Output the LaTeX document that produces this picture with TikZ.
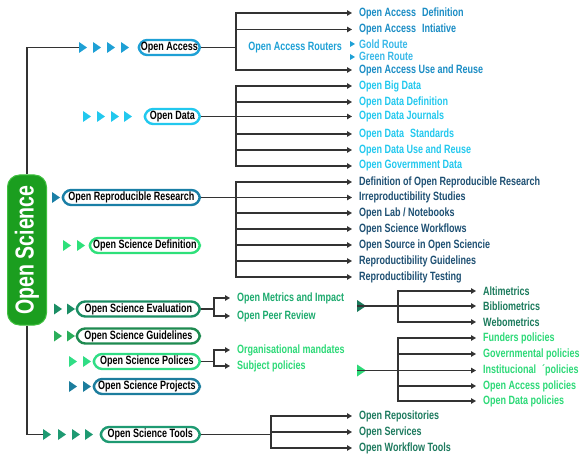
\documentclass[tikz,border=0pt]{standalone}
\usepackage{fontspec}
\usepackage{graphicx}
\setmainfont{Liberation Sans}[FakeStretch=0.75]
\usetikzlibrary{arrows.meta}
\definecolor{linegray}{HTML}{333333}
\definecolor{osgreen}{HTML}{1B9E1F}
\definecolor{osrim}{HTML}{3FC03F}
\definecolor{oablue}{HTML}{1EA0D5}
\definecolor{oatext}{HTML}{1A8CC4}
\definecolor{oalight}{HTML}{38B8E8}
\definecolor{odcyan}{HTML}{22C8EE}
\definecolor{orrblue}{HTML}{1A7FA6}
\definecolor{orrtext}{HTML}{1D4F72}
\definecolor{osdgreen}{HTML}{2EE07A}
\definecolor{osegreen}{HTML}{1B8E64}
\definecolor{osetext}{HTML}{1DAA6E}
\definecolor{metrtext}{HTML}{1B7A5C}
\definecolor{osggreen}{HTML}{1E8A50}
\definecolor{osgtri}{HTML}{2AAE5A}
\definecolor{ospgreen}{HTML}{30DD85}
\definecolor{osptext}{HTML}{2CD977}
\definecolor{projblue}{HTML}{1C7D9D}
\definecolor{ostgreen}{HTML}{1E9A72}
\definecolor{osttext}{HTML}{1D7A5E}

\begin{document}
\begin{tikzpicture}[x=1pt,y=-1pt,
  pill/.style={draw=#1,line width=2.4pt,fill=white,rounded corners=8.5pt,minimum height=15pt,inner sep=1pt,anchor=east,font=\bfseries\fontsize{12}{12}\selectfont},
  item/.style={text=#1,anchor=west,inner xsep=7pt,inner ysep=1pt,font=\bfseries\fontsize{12}{12}\selectfont},
  link/.style={draw=linegray,line width=1.2pt},
  arr/.style={link,-{Triangle[length=5pt,width=5.5pt]}}]
  \useasboundingbox (0,0) rectangle (586,454);

  \node[fill=osgreen,draw=osrim,line width=1pt,rounded corners=12pt,minimum width=39pt,minimum height=150pt,text=white,font=\bfseries\fontsize{26}{26}\selectfont] (os) at (27,250) {\rotatebox{90}{Open Science}};

  \foreach \x in {79,93,107,121} \fill[oablue] (\x,47.5) -- ++(0,-5.5) -- ++(8,5.5) -- ++(-8,5.5) -- cycle;
  \foreach \x in {83,97,111,124} \fill[odcyan] (\x,116.5) -- ++(0,-5.5) -- ++(8,5.5) -- ++(-8,5.5) -- cycle;
  \fill[orrblue] (52,197.5) -- ++(0,-5.5) -- ++(8,5.5) -- ++(-8,5.5) -- cycle;
  \foreach \x in {63,77} \fill[osdgreen] (\x,245.5) -- ++(0,-5.5) -- ++(8,5.5) -- ++(-8,5.5) -- cycle;
  \foreach \x in {54,67} \fill[osegreen] (\x,309) -- ++(0,-5.5) -- ++(8,5.5) -- ++(-8,5.5) -- cycle;
  \foreach \x in {54,67} \fill[osgtri] (\x,336) -- ++(0,-5.5) -- ++(8,5.5) -- ++(-8,5.5) -- cycle;
  \foreach \x in {69,83} \fill[ospgreen] (\x,361.5) -- ++(0,-5.5) -- ++(8,5.5) -- ++(-8,5.5) -- cycle;
  \foreach \x in {69,83} \fill[projblue] (\x,386.5) -- ++(0,-5.5) -- ++(8,5.5) -- ++(-8,5.5) -- cycle;
  \foreach \x in {43,58,72,85} \fill[ostgreen] (\x,434.5) -- ++(0,-5.5) -- ++(8,5.5) -- ++(-8,5.5) -- cycle;

  \node[pill=oablue,minimum width=61pt] (oa) at (201,47.5) {Open Access};
  \node[pill=odcyan,minimum width=55pt] (od) at (201,116.5) {Open Data};
  \node[pill=orrblue,minimum width=137pt] (orr) at (201,197.5) {Open Reproducible Research};
  \node[pill=osdgreen,minimum width=110pt] (osd) at (201,245.5) {Open Science Definition};
  \node[pill=osegreen,minimum width=123pt] (ose) at (201,309) {Open Science Evaluation};
  \node[pill=osggreen,minimum width=123pt] (osg) at (201,336) {Open Science Guidelines};
  \node[pill=ospgreen,minimum width=106pt] (osp) at (201,361.5) {Open Science Polices};
  \node[pill=projblue,minimum width=106pt] (ospr) at (201,386.5) {Open Science Projects};
  \node[pill=ostgreen,minimum width=99pt] (ost) at (201,434.5) {Open Science Tools};

  \coordinate (toa) at (79,47.5);
  \coordinate (tost) at (43,434.5);
  \draw[link] (os.north) |- (toa);
  \draw[link] (os.south) |- (tost);

  % open access
  \node[item=oatext] (oa1) at (352,13) {Open Access\hspace{6pt}Definition};
  \node[item=oatext] (oa2) at (352,29.5) {Open Access\hspace{6pt}Intiative};
  \node[item=oablue,anchor=east] (oar) at (349,48) {Open Access Routers};
  \node[item=oalight] (gold) at (352,44) {Gold Route};
  \node[item=oalight] (green) at (352,56) {Green Route};
  \node[item=oatext] (oa5) at (352,70) {Open Access Use and Reuse};
  \fill[oablue] (gold.west) ++(-2,-3) -- ++(5,3) -- ++(-5,3) -- cycle;
  \fill[oablue] (green.west) ++(-2,-2) -- ++(5,3) -- ++(-5,3) -- cycle;
  \coordinate (boa) at (236,47.5);
  \draw[link] (oa.east) -- (boa);
  \foreach \n in {oa1,oa2,oa5} \draw[arr] (boa) |- (\n.west);

  % open data
  \node[item=odcyan] (od1) at (352,86) {Open Big Data};
  \node[item=odcyan] (od2) at (352,102) {Open Data Definition};
  \node[item=odcyan] (od3) at (352,116.5) {Open Data Journals};
  \node[item=odcyan] (od4) at (352,134) {Open Data\hspace{6pt}Standards};
  \node[item=odcyan] (od5) at (352,150) {Open Data Use and Reuse};
  \node[item=odcyan] (od6) at (352,166) {Open Govermment Data};
  \coordinate (bod) at (236,116.5);
  \draw[link] (od.east) -- (bod);
  \foreach \n in {od1,od2,od3,od4,od5,od6} \draw[arr] (bod) |- (\n.west);

  % reproducible research
  \node[item=orrtext] (orr1) at (352,182) {Definition of Open Reproducible Research};
  \node[item=orrtext] (orr2) at (352,197.5) {Irreproductibility Studies};
  \node[item=orrtext] (orr3) at (352,213) {Open Lab / Notebooks};
  \node[item=orrtext] (orr4) at (352,229) {Open Science Workflows};
  \node[item=orrtext] (orr5) at (352,245) {Open Source in Open Sciencie};
  \node[item=orrtext] (orr6) at (352,261) {Reproductibility Guidelines};
  \node[item=orrtext] (orr7) at (352,277) {Reproductibility Testing};
  \coordinate (borr) at (236,197.5);
  \draw[link] (orr.east) -- (borr);
  \foreach \n in {orr1,orr2,orr3,orr4,orr5,orr6,orr7} \draw[arr] (borr) |- (\n.west);

  % evaluation
  \node[item=osetext] (ose1) at (230,298) {Open Metrics and Impact};
  \node[item=osetext] (ose2) at (230,316) {Open Peer Review};
  \coordinate (bose) at (214,309);
  \draw[link] (ose.east) -- (bose);
  \foreach \n in {ose1,ose2} \draw[arr] (bose) |- (\n.west);

  \node[item=metrtext] (me1) at (476,291) {Altimetrics};
  \node[item=metrtext] (me2) at (476,306) {Bibliometrics};
  \node[item=metrtext] (me3) at (476,322) {Webometrics};
  \fill[metrtext] (357,300) -- (366,306) -- (357,312) -- cycle;
  \coordinate (tme) at (357,306);
  \coordinate (bme) at (398,306);
  \draw[link] (tme) -- (bme);
  \foreach \n in {me1,me2,me3} \draw[arr] (bme) |- (\n.west);

  % policies
  \node[item=osptext] (osp1) at (230,350) {Organisational mandates};
  \node[item=osptext] (osp2) at (230,366) {Subject policies};
  \coordinate (bosp) at (214,361.5);
  \draw[link] (osp.east) -- (bosp);
  \foreach \n in {osp1,osp2} \draw[arr] (bosp) |- (\n.west);

  \node[item=osptext] (po1) at (476,338) {Funders policies};
  \node[item=osptext] (po2) at (476,354) {Governmental policies};
  \node[item=osptext] (po3) at (476,370.5) {Institucional\hspace{6pt}´policies};
  \node[item=osptext] (po4) at (476,386) {Open Access policies};
  \node[item=osptext] (po5) at (476,401) {Open Data policies};
  \fill[osptext] (357,364.5) -- (366,370.5) -- (357,376.5) -- cycle;
  \coordinate (tpo) at (357,370.5);
  \coordinate (bpo) at (398,370.5);
  \draw[link] (tpo) -- (bpo);
  \foreach \n in {po1,po2,po3,po4,po5} \draw[arr] (bpo) |- (\n.west);

  % tools
  \node[item=osttext] (ost1) at (352,416) {Open Repositories};
  \node[item=osttext] (ost2) at (352,432) {Open Services};
  \node[item=osttext] (ost3) at (352,448) {Open Workflow Tools};
  \coordinate (bost) at (271,434.5);
  \draw[link] (ost.east) -- (bost);
  \foreach \n in {ost1,ost2,ost3} \draw[arr] (bost) |- (\n.west);
\end{tikzpicture}
\end{document}
